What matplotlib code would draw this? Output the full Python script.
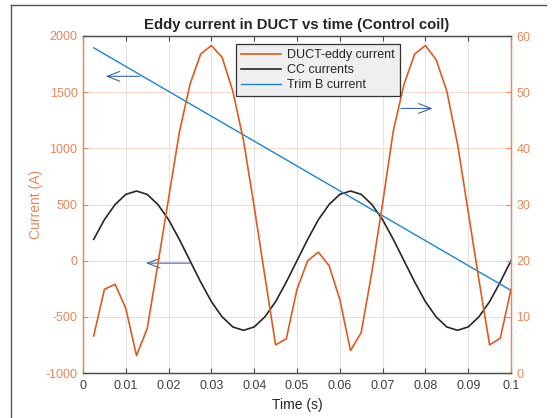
import matplotlib
matplotlib.use("Agg")
import matplotlib.pyplot as plt
from matplotlib.lines import Line2D

plt.rcParams['font.family'] = ['Liberation Sans', 'DejaVu Sans']
plt.rcParams['axes.unicode_minus'] = False

# Sample times (s)
time_s = [0.0025, 0.005, 0.0075, 0.01, 0.0125, 0.015, 0.0175, 0.02, 0.0225, 0.025,
          0.0275, 0.03, 0.0325, 0.035, 0.0375, 0.04, 0.0425, 0.045, 0.0475, 0.05,
          0.0525, 0.055, 0.0575, 0.06, 0.0625, 0.065, 0.0675, 0.07, 0.0725, 0.075,
          0.0775, 0.08, 0.0825, 0.085, 0.0875, 0.09, 0.0925, 0.095, 0.0975, 0.1]

# Eddy current in the duct (right axis, A)
duct_eddy = [6.6, 14.9, 15.8, 11.5, 3.1, 7.9, 19.4, 31.1, 42.8, 51.4,
             56.8, 58.3, 56.2, 50.2, 41.4, 29.6, 17.2, 5.0, 6.1, 14.9,
             20.0, 21.5, 19.1, 13.1, 4.0, 7.2, 18.0, 30.2, 43.1, 51.4,
             56.8, 58.3, 55.8, 50.2, 40.8, 28.7, 16.6, 5.0, 6.2, 14.9]

# Control coil currents (left axis, A)
cc_current = [190, 365, 500, 590, 620, 590, 500, 365, 190, 0,
              -190, -365, -500, -590, -620, -590, -500, -365, -190, 0,
              190, 365, 500, 590, 620, 590, 500, 365, 190, 0,
              -190, -365, -500, -590, -620, -590, -500, -365, -190, 0]

# Trim B current ramp (left axis, A)
trim_time = [0.0025, 0.1]
trim_current = [1895, -265]

left_ticks = [-1000, -500, 0, 500, 1000, 1500, 2000]
right_ticks = [0, 10, 20, 30, 40, 50, 60]
x_ticks = [0, 0.01, 0.02, 0.03, 0.04, 0.05, 0.06, 0.07, 0.08, 0.09, 0.1]
x_tick_labels = ['0', '0.01', '0.02', '0.03', '0.04', '0.05', '0.06', '0.07', '0.08', '0.09', '0.1']

ORANGE = '#DD5A22'
AXIS_ORANGE = '#E8875A'
BLUE = '#1F84CC'
ARROW = '#3F66A8'
DARK = '#262626'
GRAY_TXT = '#404040'

fig = plt.figure(figsize=(5.52, 4.18), dpi=100)
ax = fig.add_axes([83 / 552, 1 - 373 / 418, (511 - 83) / 552, (373 - 36) / 418])
ax2 = ax.twinx()

ax.plot(time_s, cc_current, color=DARK, lw=1.2, label='CC currents')
ax.plot(trim_time, trim_current, color=BLUE, lw=1.0, label='Trim B current')
ax2.plot(time_s, duct_eddy, color=ORANGE, lw=1.2, label='DUCT-eddy current')

ax.set_xlim(0, 0.1)
ax.set_ylim(-1000, 2000)
ax2.set_ylim(0, 60)
ax.set_xticks(x_ticks)
ax.set_xticklabels(x_tick_labels)
ax.set_yticks(left_ticks)
ax2.set_yticks(right_ticks)

# grid: grey verticals, faint orange horizontals
ax.grid(False)
for xt in x_ticks[1:-1]:
    ax.axvline(xt, color='#E3E3E3', lw=0.8, zorder=0)
for yt in left_ticks[1:-1]:
    ax.axhline(yt, color='#F9D9CC', lw=0.8, zorder=0)

for a in (ax, ax2):
    a.tick_params(direction='in', length=3.5, width=0.8, labelsize=9)
ax.tick_params(axis='x', top=True, colors='#4D4D4D', labelcolor=GRAY_TXT, pad=5)
ax.tick_params(axis='y', colors=AXIS_ORANGE, labelcolor=AXIS_ORANGE, pad=4)
ax2.tick_params(axis='y', colors=AXIS_ORANGE, labelcolor=AXIS_ORANGE, pad=4)

for a in (ax, ax2):
    a.spines['top'].set_color('#4D4D4D')
    a.spines['bottom'].set_color('#4D4D4D')
    a.spines['left'].set_color(AXIS_ORANGE)
    a.spines['right'].set_color(AXIS_ORANGE)
    for s in a.spines.values():
        s.set_linewidth(0.9)

ax.set_xlabel('Time (s)', fontsize=10, color=DARK, labelpad=4)
ax.set_ylabel('Current (A)', fontsize=10, color=AXIS_ORANGE, labelpad=2)
ax.set_title('Eddy current in DUCT vs time (Control coil)', fontsize=10.7,
             fontweight='bold', color=DARK, pad=5)

# annotation arrows pointing to the axis each curve belongs to
arrow_props = dict(arrowstyle='->,head_length=0.9,head_width=0.35', color=ARROW, lw=0.8,
                   shrinkA=0, shrinkB=0)
ax.annotate('', xy=(0.0053, 1641), xytext=(0.0133, 1641), arrowprops=arrow_props)
ax.annotate('', xy=(0.0147, -22), xytext=(0.0250, -22), arrowprops=arrow_props)
ax2.annotate('', xy=(0.0817, 47.1), xytext=(0.0743, 47.1), arrowprops=arrow_props)

handles = [ax2.get_lines()[0], ax.get_lines()[0], ax.get_lines()[1]]
leg = ax2.legend(handles, [h.get_label() for h in handles], loc='upper left',
                 bbox_to_anchor=(236 / 552, 1 - 44 / 418), bbox_transform=fig.transFigure,
                 borderaxespad=0, fontsize=9, handlelength=3.2, handletextpad=0.5,
                 labelspacing=0.25, borderpad=0.4, fancybox=False, framealpha=1)
leg.get_frame().set_facecolor('#EFEFEF')
leg.get_frame().set_edgecolor('#333333')
leg.get_frame().set_linewidth(0.9)
for t in leg.get_texts():
    t.set_color(DARK)

# outer frame edges
fig.add_artist(Line2D([10.5 / 552, 10.5 / 552], [0, 1 - 5 / 418], transform=fig.transFigure,
                      color='#555555', lw=1.0))
fig.add_artist(Line2D([10.5 / 552, 546 / 552], [1 - 5 / 418, 1 - 5 / 418],
                      transform=fig.transFigure, color='#555555', lw=1.0))

fig.savefig('out.png', dpi=100, facecolor='white')
